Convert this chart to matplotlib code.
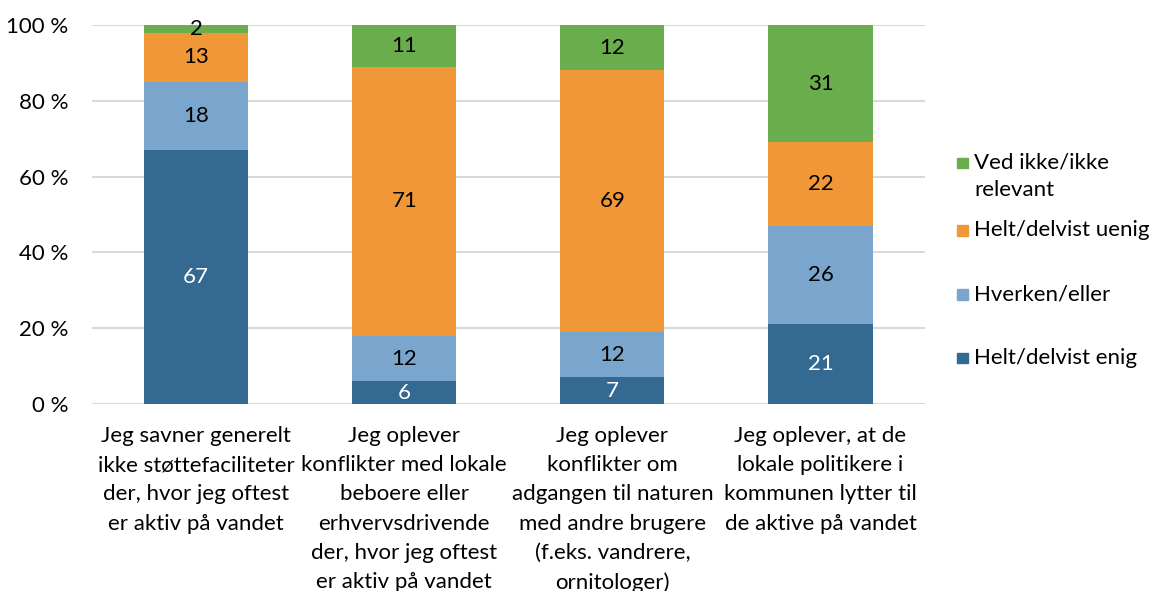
import matplotlib
matplotlib.use("Agg")
from matplotlib import pyplot as plt
from matplotlib.patches import Rectangle

plt.rcParams['font.family'] = ['Lato', 'DejaVu Sans']

# kategorier og data (procent)
kategorier = [
    "Jeg savner generelt\nikke støttefaciliteter\nder, hvor jeg oftest\ner aktiv på vandet",
    "Jeg oplever\nkonflikter med lokale\nbeboere eller\nerhvervsdrivende\nder, hvor jeg oftest\ner aktiv på vandet",
    "Jeg oplever\nkonflikter om\nadgangen til naturen\nmed andre brugere\n(f.eks. vandrere,\nornitologer)",
    "Jeg oplever, at de\nlokale politikere i\nkommunen lytter til\nde aktive på vandet",
]
enig = [67, 6, 7, 21]
hverken = [18, 12, 12, 26]
uenig = [13, 71, 69, 22]
ved_ikke = [2, 11, 12, 31]

serier = [
    ("Helt/delvist enig", enig, "#346A91", "white"),
    ("Hverken/eller", hverken, "#7AA6CE", "black"),
    ("Helt/delvist uenig", uenig, "#F09838", "black"),
    ("Ved ikke/ikke\nrelevant", ved_ikke, "#6AAD4D", "black"),
]

FS = 16

fig = plt.figure(figsize=(11.5, 5.91), dpi=100)
ax = fig.add_axes([0.08, 0.3164, 0.724, 0.6413])

x = range(len(kategorier))
bund = [0] * len(kategorier)
for navn, vals, farve, tekstfarve in serier:
    bars = ax.bar(x, vals, bottom=bund, width=0.5, color=farve, zorder=3)
    ax.bar_label(bars, labels=[str(v) for v in vals], label_type='center',
                 color=tekstfarve, fontsize=FS)
    bund = [b + v for b, v in zip(bund, vals)]

ax.set_xlim(-0.5, 3.5)
ax.set_ylim(0, 100)
ax.set_yticks(range(0, 101, 20))
ax.set_yticklabels([f"{t} %" for t in range(0, 101, 20)], fontsize=FS)
ax.set_xticks(list(x))
ax.set_xticklabels(kategorier, fontsize=FS, linespacing=1.57)
ax.tick_params(axis='x', length=0, pad=16)
ax.tick_params(axis='y', length=0, pad=17)
ax.grid(axis='y', color='#d9d9d9', linewidth=1.5, zorder=0)
for s in ax.spines.values():
    s.set_visible(False)

# legende (øverst = sidste serie)
legend_y = [0.726, 0.611, 0.503, 0.396]
for (navn, vals, farve, _), y in zip(reversed(serier), legend_y):
    fig.patches.append(Rectangle((0.832, y - 0.011), 0.0095, 0.0185,
                                 transform=fig.transFigure, color=farve))
    fig.text(0.847, y + 0.016, navn, fontsize=FS, va='top', ha='left',
             linespacing=1.5)

fig.savefig("out.png", dpi=100)
